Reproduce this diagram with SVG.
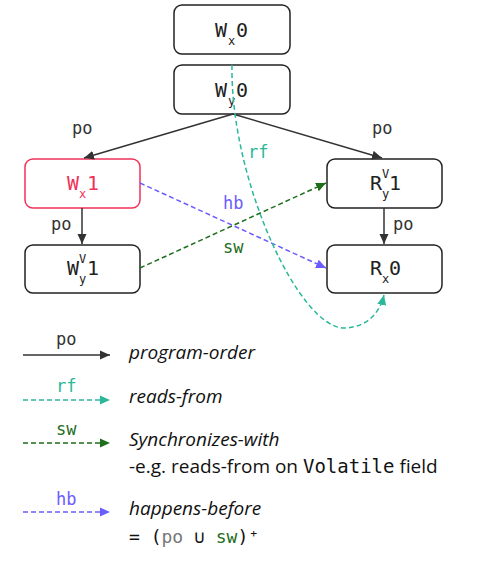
<svg xmlns="http://www.w3.org/2000/svg" width="498" height="576" viewBox="0 0 498 576">
<style>
.box{fill:#fff;stroke:#222;stroke-width:1.5}
.red{stroke:#f0325a}
.nt{font-family:"DejaVu Sans Mono",monospace;font-size:20px;fill:#222}
.ns{font-family:"DejaVu Sans Mono",monospace;font-size:12px;fill:#222}
.lbl{font-family:"DejaVu Sans Mono",monospace;font-size:17px}
.leg{font-family:"Open Sans",sans-serif;font-size:19px;fill:#111}
.it{font-style:italic}
.po{stroke:#333;stroke-width:1.5;fill:none}
.rf{stroke:#2bb89a;stroke-width:1.5;fill:none;stroke-dasharray:5,3}
.sw{stroke:#1d6e1d;stroke-width:1.5;fill:none;stroke-dasharray:5,3}
.hb{stroke:#6b5cff;stroke-width:1.5;fill:none;stroke-dasharray:5,3}
</style>
<defs>
<marker id="aPo" viewBox="0 0 10 10" refX="10" refY="5" markerWidth="10" markerHeight="10" markerUnits="userSpaceOnUse" orient="auto"><path d="M0,0.5 L10,5 L0,9.5 z" fill="#333"/></marker>
<marker id="aRf" viewBox="0 0 10 10" refX="10" refY="5" markerWidth="10" markerHeight="10" markerUnits="userSpaceOnUse" orient="auto"><path d="M0,0.5 L10,5 L0,9.5 z" fill="#2bb89a"/></marker>
<marker id="aSw" viewBox="0 0 10 10" refX="10" refY="5" markerWidth="10" markerHeight="10" markerUnits="userSpaceOnUse" orient="auto"><path d="M0,0.5 L10,5 L0,9.5 z" fill="#1d6e1d"/></marker>
<marker id="aHb" viewBox="0 0 10 10" refX="10" refY="5" markerWidth="10" markerHeight="10" markerUnits="userSpaceOnUse" orient="auto"><path d="M0,0.5 L10,5 L0,9.5 z" fill="#6b5cff"/></marker>
</defs>
<rect width="498" height="576" fill="#fff"/>

<g id="nWx0">
<rect class="box" x="174" y="5" width="116" height="49" rx="8"/>
<text class="nt" x="215" y="37">W</text><text class="ns" x="228" y="45">x</text><text class="nt" x="236" y="37">0</text>
</g>
<g id="nWy0">
<rect class="box" x="174" y="65" width="116" height="49" rx="8"/>
<text class="nt" x="215" y="97">W</text><text class="ns" x="228" y="105">y</text><text class="nt" x="236" y="97">0</text>
</g>
<g id="nWx1">
<rect class="box red" x="25" y="159" width="115" height="49" rx="8"/>
<text class="nt" x="67" y="190" style="fill:#f0325a">W</text><text class="ns" x="79" y="198" style="fill:#f0325a">x</text><text class="nt" x="87" y="190" style="fill:#f0325a">1</text>
</g>
<g id="nWy1">
<rect class="box" x="25" y="245" width="115" height="48" rx="8"/>
<text class="nt" x="67" y="275">W</text><text class="ns" x="79" y="263">V</text><text class="ns" x="79" y="283">y</text><text class="nt" x="87" y="275">1</text>
</g>
<g id="nRy1">
<rect class="box" x="327" y="159" width="115" height="49" rx="8"/>
<text class="nt" x="370" y="190">R</text><text class="ns" x="382" y="178">V</text><text class="ns" x="382" y="198">y</text><text class="nt" x="389" y="190">1</text>
</g>
<g id="nRx0">
<rect class="box" x="327" y="245" width="115" height="48" rx="8"/>
<text class="nt" x="370" y="275">R</text><text class="ns" x="382" y="283">x</text><text class="nt" x="389" y="275">0</text>
</g>

<g id="connectors">
<path class="po" d="M233,114 L84,158" marker-end="url(#aPo)"/>
<path class="po" d="M233,114 L382,158" marker-end="url(#aPo)"/>
<path class="po" d="M82,208 L82,244" marker-end="url(#aPo)"/>
<path class="po" d="M384,208 L384,244" marker-end="url(#aPo)"/>
<path class="hb" d="M140,183 L326,268" marker-end="url(#aHb)"/>
<path class="sw" d="M140,268 L326,183" marker-end="url(#aSw)"/>
<path class="rf" d="M232,65 C230,180 300,330 345,328 C368,327 380,312 384,295" marker-end="url(#aRf)"/>
<text class="lbl" x="72" y="134" fill="#333">po</text>
<text class="lbl" x="372" y="134" fill="#333">po</text>
<text class="lbl" x="51" y="230" fill="#333">po</text>
<text class="lbl" x="393" y="230" fill="#333">po</text>
<text class="lbl" x="248" y="158" fill="#2bb89a">rf</text>
<text class="lbl" x="223" y="209" fill="#6b5cff">hb</text>
<text class="lbl" x="223" y="253" fill="#1d6e1d">sw</text>
</g>

<g id="legend">
<path class="po" d="M23,355 L110,355" marker-end="url(#aPo)"/>
<text class="lbl" x="56" y="345" fill="#333">po</text>
<text class="leg it" x="129" y="359">program-order</text>
<path class="rf" d="M23,400 L110,400" marker-end="url(#aRf)"/>
<text class="lbl" x="56" y="392" fill="#2bb89a">rf</text>
<text class="leg it" x="129" y="403">reads-from</text>
<path class="sw" d="M23,443 L110,443" marker-end="url(#aSw)"/>
<text class="lbl" x="56" y="435" fill="#1d6e1d">sw</text>
<text class="leg it" x="129" y="446">Synchronizes-with</text>
<text class="leg" x="129" y="473">-e.g. reads-from on <tspan style="font-family:'DejaVu Sans Mono',monospace">Volatile</tspan> field</text>
<path class="hb" d="M23,512 L110,512" marker-end="url(#aHb)"/>
<text class="lbl" x="56" y="505" fill="#6b5cff">hb</text>
<text class="leg it" x="129" y="515">happens-before</text>
<text class="leg" x="129" y="543" style="font-family:'DejaVu Sans Mono',monospace;font-size:18px">= (<tspan fill="#777">po</tspan> ∪ <tspan fill="#1d6e1d">sw</tspan>)⁺</text>
</g>
</svg>
